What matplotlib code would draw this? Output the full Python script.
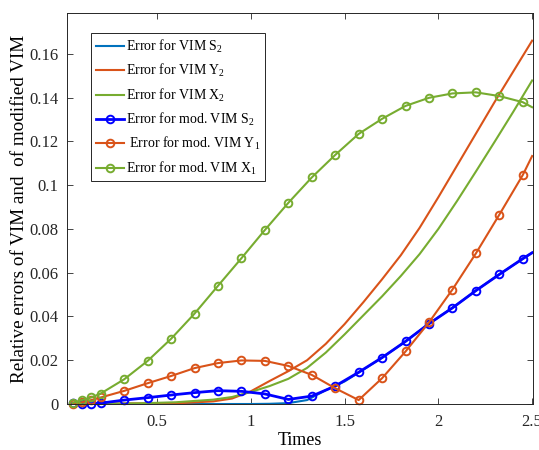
#!/usr/bin/python3

import numpy as np
import matplotlib
matplotlib.use('Agg')
import matplotlib.pyplot as plt

# sample times for the plain VIM curves
t_vim = [0.05, 0.2, 0.4, 0.6, 0.8, 0.9, 1.0, 1.1, 1.2, 1.3, 1.4, 1.5,
         1.6, 1.7, 1.8, 1.9, 2.0, 2.1, 2.2, 2.3, 2.4, 2.5]
vim_s2 = [0, 0, 0, 0, 0, 0, 0, 0.0001, 0.0004, 0.0018, 0.0063, 0.0103,
          0.0157, 0.0212, 0.0271, 0.0335, 0.0396, 0.0455, 0.0518, 0.0578, 0.0635, 0.0691]
vim_y2 = [0, 0.0002, 0.0003, 0.0003, 0.0012, 0.0025, 0.0058, 0.0105, 0.0150, 0.0200, 0.0275, 0.0365,
          0.0465, 0.0570, 0.0680, 0.0805, 0.0945, 0.1090, 0.1235, 0.1380, 0.1520, 0.1660]
vim_x2 = [0, 0.0001, 0.0003, 0.0008, 0.0020, 0.0032, 0.0055, 0.0082, 0.0115, 0.0165, 0.0235, 0.0318,
          0.0405, 0.0492, 0.0585, 0.0685, 0.0800, 0.0928, 0.1062, 0.1198, 0.1336, 0.1478]

# times for the modified VIM curves (markers on all but the last point)
t_mod = [0.05, 0.1, 0.15, 0.2, 0.325, 0.45, 0.575, 0.7, 0.825, 0.95, 1.075, 1.2,
         1.325, 1.45, 1.575, 1.7, 1.825, 1.95, 2.075, 2.2, 2.325, 2.45, 2.5]
mod_s2 = [0.0003, 0.0001, 0.0002, 0.0004, 0.0018, 0.0029, 0.0041, 0.0052, 0.0061, 0.0058, 0.0046, 0.0021,
          0.0036, 0.0082, 0.0145, 0.0212, 0.0286, 0.0367, 0.0439, 0.0518, 0.0592, 0.0664, 0.0691]
mod_y1 = [0.0002, 0.0008, 0.0018, 0.0030, 0.0060, 0.0095, 0.0128, 0.0164, 0.0187, 0.0199, 0.0197, 0.0174,
          0.0133, 0.0072, 0.0018, 0.0118, 0.0240, 0.0373, 0.0523, 0.0688, 0.0865, 0.1046, 0.1133]
mod_x1 = [0.0005, 0.0018, 0.0030, 0.0048, 0.0113, 0.0197, 0.0298, 0.0413, 0.0540, 0.0666, 0.0795, 0.0919,
          0.1035, 0.1138, 0.1234, 0.1303, 0.1362, 0.1399, 0.1419, 0.1424, 0.1407, 0.1379, 0.1356]

labels = ['Error for VIM S$_2$', 'Error for VIM Y$_2$', 'Error for VIM X$_2$',
          'Error for mod. VIM S$_2$', ' Error for mod. VIM Y$_1$', 'Error for mod. VIM X$_1$']

xticks = [0.5, 1, 1.5, 2, 2.5]
xtick_labels = ['0.5', '1', '1.5', '2', '2.5']
yticks = [0, 0.02, 0.04, 0.06, 0.08, 0.1, 0.12, 0.14, 0.16]
ytick_labels = ['0', '0.02', '0.04', '0.06', '0.08', '0.1', '0.12', '0.14', '0.16']

font = {'family': 'Liberation Serif',
        'size': 12}


def main():
    plt.rc('font', **font)
    plt.rcParams['mathtext.fontset'] = 'custom'
    plt.rcParams['mathtext.rm'] = 'Liberation Serif'
    plt.rcParams['mathtext.it'] = 'Liberation Serif'

    c_blue = '#0072BD'
    c_orange = '#D95319'
    c_green = '#77AC30'

    fig = plt.figure(figsize=(5.39, 4.5), dpi=100)
    ax = fig.add_axes([0.1243, 0.1022, 0.8647, 0.8682])

    ax.plot(t_vim, vim_s2, color=c_blue, linewidth=1.5, label=labels[0])
    ax.plot(t_vim, vim_y2, color=c_orange, linewidth=1.5, label=labels[1])
    ax.plot(t_vim, vim_x2, color=c_green, linewidth=1.5, label=labels[2])

    marks = list(range(len(t_mod) - 1))
    for vals, col, lab in [(mod_s2, '#0000FF', labels[3]),
                           (mod_y1, c_orange, labels[4]),
                           (mod_x1, c_green, labels[5])]:
        ax.plot(t_mod, vals, color=col, linewidth=2 if col == '#0000FF' else 1.5,
                marker='o', markersize=5.5, markerfacecolor='none',
                markeredgewidth=1.4, markevery=marks, label=lab, clip_on=False)

    ax.set_xlim(0.02, 2.505)
    ax.set_ylim(0, 0.1785)
    ax.set_xticks(xticks)
    ax.set_xticklabels(xtick_labels)
    ax.set_yticks(yticks)
    ax.set_yticklabels(ytick_labels)
    ax.tick_params(direction='in', top=True, right=True, length=4,
                   width=0.6, colors='#262626', labelsize=12, pad=6)
    ax.tick_params(axis='x', pad=7.5)
    for sp in ax.spines.values():
        sp.set_color('#262626')
        sp.set_linewidth(0.7)

    ax.set_xlabel('Times', fontsize=13, labelpad=1)
    ax.set_ylabel('Relative errors of VIM and  of modified VIM', fontsize=13.8, labelpad=1)

    leg = ax.legend(loc='upper left', bbox_to_anchor=(0.0515, 0.9496),
                    borderaxespad=0, fontsize=10, fancybox=False,
                    edgecolor='#262626', framealpha=1, handlelength=2.0,
                    handletextpad=0.15, labelspacing=0.52, borderpad=0.35)
    leg.get_frame().set_linewidth(0.7)

    plt.savefig('out.png', dpi=100)


if __name__ == "__main__":
    main()
